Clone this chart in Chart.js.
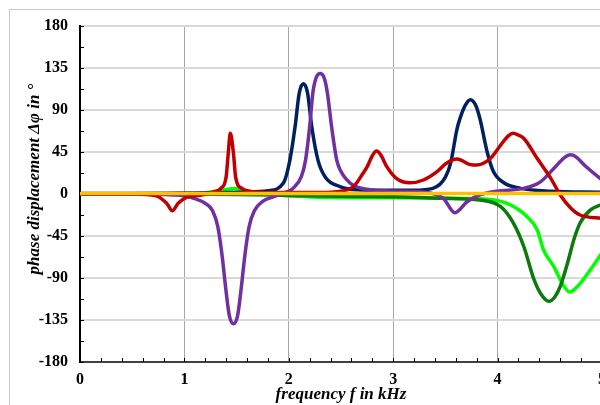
<!DOCTYPE html>
<html>
<head>
<meta charset="utf-8">
<script src="https://cdn.jsdelivr.net/npm/chart.js@4/dist/chart.umd.min.js"></script>
<style>
  html, body { margin: 0; padding: 0; background: #fff; width: 600px; height: 405px; overflow: hidden; }
  #frame { position: absolute; left: 9px; top: 9px; width: 700px; height: 500px; border: 1px solid #c8c8c8; }
  #chart { position: absolute; left: 0; top: 0; }
</style>
</head>
<body>
<div id="frame"></div>
<canvas id="chart" width="620" height="405"></canvas>
<script>
// frequency in kHz / phase displacement in degrees
const orangeF = [0, 1, 2, 3, 4, 5];
const orangeV = [0.5, 0.5, 0.5, 0.5, 0.5, 0.5];

const redF = [0, 0.5, 0.73, 0.83, 0.885, 0.94, 1.02, 1.15, 1.29, 1.35, 1.40, 1.42, 1.44, 1.47, 1.49, 1.55, 1.66, 1.9, 2.2, 2.46, 2.62, 2.71, 2.75, 2.80, 2.84, 2.88, 2.94, 3.03, 3.16, 3.29, 3.42, 3.51, 3.61, 3.74, 3.80, 3.93, 4.03, 4.10, 4.15, 4.20, 4.25, 4.38, 4.51, 4.60, 4.70, 4.79, 5.0];
const redV = [0, 0, -2, -10, -18, -10, -3.6, -1.4, 2.5, 6, 18.6, 43.6, 65, 43.6, 18.6, 6, 2.5, 1.5, 1.5, 2.5, 8, 22, 29, 41, 46, 42, 29, 16.8, 12, 15, 24, 33, 37.5, 31.5, 31, 38, 52.5, 62, 65, 63, 59.7, 38, 16.8, -1, -15, -22.5, -26];

const purpleF = [0, 0.5, 0.9, 1.0, 1.1, 1.2, 1.27, 1.32, 1.36, 1.40, 1.43, 1.47, 1.51, 1.54, 1.58, 1.62, 1.67, 1.75, 1.85, 1.95, 2.04, 2.12, 2.16, 2.20, 2.23, 2.26, 2.30, 2.34, 2.37, 2.41, 2.46, 2.50, 2.55, 2.62, 2.75, 3.0, 3.3, 3.48, 3.59, 3.71, 3.83, 3.99, 4.25, 4.41, 4.54, 4.64, 4.70, 4.76, 4.83, 5.0];
const purpleV = [0, 0, -1, -2, -5, -10, -18, -35, -65, -105, -130, -139, -130, -105, -65, -35, -18, -8, -3, 1, 6, 18.6, 36, 72, 108, 124, 129, 124, 108, 72, 36, 24, 16, 9, 5, 3, 2, -4.6, -20, -8, -1, 3, 6, 13, 27.5, 39, 42, 39, 31, 15];

const navyF = [0, 0.5, 1.0, 1.4, 1.6, 1.8, 1.95, 2.01, 2.06, 2.10, 2.14, 2.18, 2.22, 2.28, 2.35, 2.49, 2.65, 2.9, 3.2, 3.38, 3.5, 3.55, 3.61, 3.64, 3.69, 3.74, 3.79, 3.83, 3.90, 3.96, 4.06, 4.22, 4.51, 5.0];
const navyV = [0.5, 0.5, 1, 1.5, 2, 3.5, 12, 36, 72, 108, 118, 108, 72, 36, 18, 8, 4.5, 4, 4, 6, 18, 33, 69, 81, 95, 101, 95, 81, 45, 24, 12, 6, 3, 2];

const dkGreenF = [0, 1.0, 1.5, 2.0, 2.5, 3.0, 3.45, 3.83, 4.03, 4.15, 4.25, 4.35, 4.42, 4.49, 4.55, 4.60, 4.67, 4.73, 4.79, 4.89, 5.0];
const dkGreenV = [0, 0, -0.5, -1.5, -2.5, -3, -4.6, -6.4, -13.6, -31, -56, -92, -108, -115, -110, -99, -74, -49, -31, -17, -11];

const ltGreenF = [0, 1.05, 1.3, 1.48, 1.63, 1.8, 2.0, 2.5, 3.0, 3.5, 3.83, 4.09, 4.28, 4.38, 4.44, 4.54, 4.62, 4.69, 4.79, 4.89, 5.0];
const ltGreenV = [0, 0, 3, 6, 1, 0, -2, -4, -4, -4.5, -5, -10, -24, -38.6, -60, -78, -96, -105, -96, -81, -63];

const xTicks = [0, 1, 2, 3, 4, 5];
const yTicks = [-180, -135, -90, -45, 0, 45, 90, 135, 180];

const yTitleText = 'phase displacement \u0394\u03c6 in \u00b0';

function pts(fs, vs) {
    return fs.map((f, i) => ({ x: f, y: vs[i] }));
}

const serif = 'Liberation Serif, Times New Roman, serif';

// small inner tick marks along both axes
const minorTicks = {
    id: 'minorTicks',
    beforeDatasetsDraw(chart) {
        const { ctx, chartArea, scales } = chart;
        ctx.save();
        ctx.strokeStyle = '#000';
        ctx.lineWidth = 1;
        for (let v = -180; v <= 180; v += 22.5) {
            const py = Math.round(scales.y.getPixelForValue(v)) + 0.5;
            ctx.beginPath();
            ctx.moveTo(chartArea.left, py);
            ctx.lineTo(chartArea.left + 4, py);
            ctx.stroke();
        }
        for (let i = 0; i <= 25; i++) {
            const px = Math.round(scales.x.getPixelForValue(i * 0.2)) + 0.5;
            ctx.beginPath();
            ctx.moveTo(px, chartArea.bottom);
            ctx.lineTo(px, chartArea.bottom - 4);
            ctx.stroke();
        }
        ctx.restore();
    }
};

// y title sits a bit above the middle of the axis in the original
const yTitle = {
    id: 'yTitle',
    afterDraw(chart) {
        const ctx = chart.ctx;
        ctx.save();
        ctx.translate(35, 179);
        ctx.rotate(-Math.PI / 2);
        ctx.font = 'italic bold 17px ' + serif;
        ctx.fillStyle = '#000';
        ctx.textAlign = 'center';
        ctx.textBaseline = 'middle';
        ctx.fillText(yTitleText, 0, 0);
        ctx.restore();
    }
};

new Chart(document.getElementById('chart'), {
    type: 'line',
    data: {
        datasets: [
            { data: pts(orangeF, orangeV), borderColor: '#FFC000' },
            { data: pts(redF, redV), borderColor: '#C00000' },
            { data: pts(purpleF, purpleV), borderColor: '#7030A0' },
            { data: pts(navyF, navyV), borderColor: '#002060' },
            { data: pts(dkGreenF, dkGreenV), borderColor: '#0B7A0B' },
            { data: pts(ltGreenF, ltGreenV), borderColor: '#00FF00' }
        ]
    },
    options: {
        responsive: false,
        animation: false,
        layout: { padding: { top: 26, right: 18, left: 0, bottom: 0 } },
        elements: {
            point: { radius: 0 },
            line: { borderWidth: 3.5, cubicInterpolationMode: 'monotone', fill: false }
        },
        plugins: {
            legend: { display: false },
            tooltip: { enabled: false }
        },
        scales: {
            x: {
                type: 'linear',
                min: 0,
                max: 5,
                afterBuildTicks: s => { s.ticks = xTicks.map(v => ({ value: v })); },
                afterFit: s => { s.height = 43; },
                ticks: { padding: 8, color: '#000', font: { family: serif, size: 16, weight: 'bold' } },
                grid: {
                    drawTicks: false,
                    lineWidth: 1,
                    color: c => (c.tick && c.tick.value > 0 && c.tick.value < 5) ? '#a6a6a6' : 'rgba(0,0,0,0)'
                },
                border: { color: '#404040', width: 2 },
                title: {
                    display: true,
                    text: 'frequency f in kHz',
                    color: '#000',
                    padding: 0,
                    font: { family: serif, size: 17, weight: 'bold', style: 'italic' }
                }
            },
            y: {
                min: -180,
                max: 180,
                afterBuildTicks: s => { s.ticks = yTicks.map(v => ({ value: v })); },
                afterFit: s => { s.width = 80; },
                ticks: { padding: 12, color: '#000', font: { family: serif, size: 16, weight: 'bold' } },
                grid: { drawTicks: false, lineWidth: 2, color: '#d9d9d9' },
                border: { color: '#000', width: 2 }
            }
        }
    },
    plugins: [minorTicks, yTitle]
});
</script>
</body>
</html>
